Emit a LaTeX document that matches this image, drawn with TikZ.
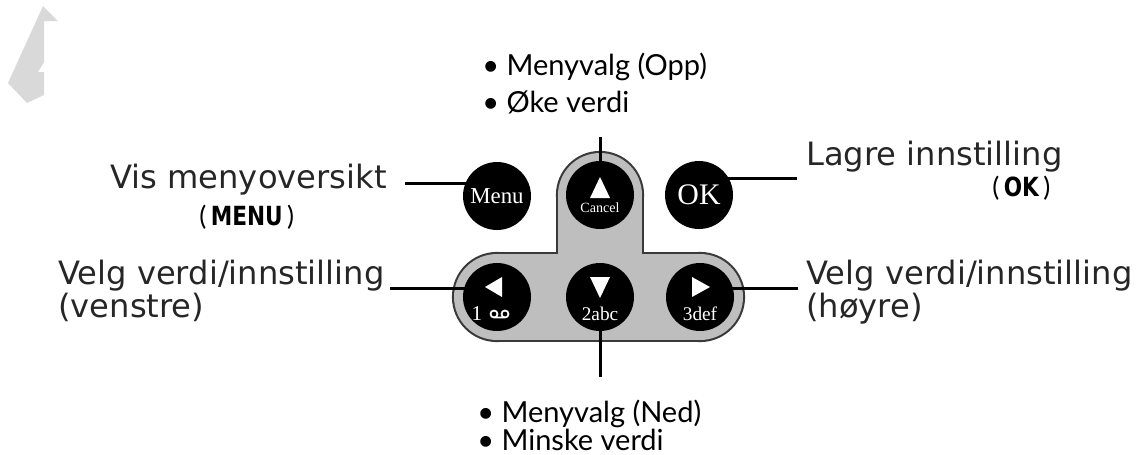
\documentclass[tikz,border=0pt]{standalone}
\usepackage{fontspec}
\setmainfont{Lato}
\newfontfamily\sidefont{DejaVu Sans}
\newfontfamily\keyfont{DejaVu Sans}[FakeStretch=0.82]
\newfontfamily\btnfont{Liberation Serif}
\usetikzlibrary{backgrounds}
\definecolor{panelgray}{HTML}{BEBEBE}
\definecolor{paneledge}{HTML}{3A3A3A}
\definecolor{cornergray}{HTML}{D9D9D9}
\tikzset{
  button/.style={circle,fill=black,minimum size=1.36cm,inner sep=0pt},
  lbl/.style={anchor=base west,inner sep=0pt,font=\fontsize{16.5}{19}\selectfont},
  sidelbl/.style={anchor=base west,inner sep=0pt,text=black!85,font=\sidefont\fontsize{18.3}{21}\selectfont},
  keylbl/.style={anchor=base west,inner sep=0pt,font=\fontsize{15}{17}\selectfont},
  btntxt/.style={text=white,inner sep=0pt,anchor=base},
  wire/.style={line width=1.7pt},
  panelrim/.style={draw=paneledge,fill=paneledge,line width=2.4pt},
  panelfill/.style={fill=panelgray},
}
\begin{document}
\begin{tikzpicture}[x=0.02cm,y=-0.02cm]
  \useasboundingbox (0,0) rectangle (1142,454);
  \fill[cornergray] (43,6) -- (58,21) -- (44,21) -- (44,62) -- (38,72) -- (44,72)
    -- (44,95) -- (27,103) -- (8,83) -- cycle; % torn corner
  \foreach \nm/\x/\y in {menu/497/196,cancel/600/195,ok/699/195,lbtn/497/297,down/600/297,rbtn/700/297}
    \node[button] (\nm) at (\x,\y) {}; % keys
  % key faces
  \node[btntxt,anchor=center,font=\btnfont\fontsize{13}{13}\selectfont] (menutxt) at (menu) {Menu};
  \node[btntxt,anchor=center,font=\btnfont\fontsize{17}{17}\selectfont] (oktxt) at (ok) {OK};
  \fill[white,shift={(cancel.center)}] (0,-18) -- (10,3) -- (-10,3) -- cycle;
  \node[btntxt,font=\btnfont\fontsize{8}{8}\selectfont] (canceltxt) at ([shift={(0,17)}]cancel.center) {Cancel};
  \fill[white,shift={(lbtn.center)}] (-12,-10) -- (5,-20) -- (5,0) -- cycle;
  \node[btntxt,font=\btnfont\fontsize{12}{12}\selectfont] (one) at ([shift={(-20,23)}]lbtn.center) {1};
  \draw[white,line width=1pt,shift={(lbtn.center)}] (-3,17) circle (0.07cm) (8,17) circle (0.07cm)
    (-3,20.5) -- (8,20.5); % voice mail
  \fill[white,shift={(down.center)}] (-10,-20) -- (10,-20) -- (0,1) -- cycle;
  \node[btntxt,font=\btnfont\fontsize{11}{11}\selectfont] (two) at ([shift={(0,23)}]down.center) {2abc};
  \fill[white,shift={(rbtn.center)}] (-8,-20) -- (10,-10) -- (-8,0) -- cycle;
  \node[btntxt,font=\btnfont\fontsize{11}{11}\selectfont] (three) at ([shift={(0,23)}]rbtn.center) {3def};
  % labels
  \node[lbl] (opp) at (482,75) {\textbullet\ Menyvalg (Opp)};
  \node[lbl] (oke) at (482,112) {\textbullet\ Øke verdi};
  \node[sidelbl] (vis) at (110,188) {Vis menyoversikt};
  \node[keylbl] (menukey) at (199,225) {(\,{\keyfont\bfseries MENU}\,)};
  \node[sidelbl] (lagre) at (806,165) {Lagre innstilling};
  \node[keylbl] (okkey) at (992,196) {(\,{\keyfont\bfseries OK}\,)};
  \node[sidelbl] (velgl) at (58,284) {Velg verdi/innstilling};
  \node[sidelbl] (venstre) at (58,317) {(venstre)};
  \node[sidelbl] (velgr) at (806,284) {Velg verdi/innstilling};
  \node[sidelbl] (hoyre) at (806,317) {(høyre)};
  \node[lbl] (ned) at (477,422) {\textbullet\ Menyvalg (Ned)};
  \node[lbl] (minske) at (477,450) {\textbullet\ Minske verdi};
  % free ends of the wires
  \coordinate (visend) at (405,183);
  \coordinate (cancelend) at (600,137);
  \coordinate (okend) at (797,178);
  \coordinate (lend) at (390,288);
  \coordinate (rend) at (798,288);
  \coordinate (downend) at (600,377);
  \begin{scope}[on background layer]
    \foreach \sty in {panelrim,panelfill} { % rim first, then fill over it
      \path[\sty] (600,195) circle (0.84cm);
      \path[\sty] (558,195) rectangle (642,297);
      \path[\sty] (497,297) circle (0.86cm);
      \path[\sty] (700,297) circle (0.86cm);
      \path[\sty] (497,254) rectangle (700,340);
    }
    \draw[wire] (visend) -- (visend -| menu.center);
    \draw[wire] (cancelend) -- (cancel.center);
    \draw[wire] (okend) -- (okend -| ok.center);
    \draw[wire] (lend) -- (lend -| lbtn.center);
    \draw[wire] (rend) -- (rend -| rbtn.center);
    \draw[wire] (downend) -- (down.center);
  \end{scope}
\end{tikzpicture}
\end{document}
